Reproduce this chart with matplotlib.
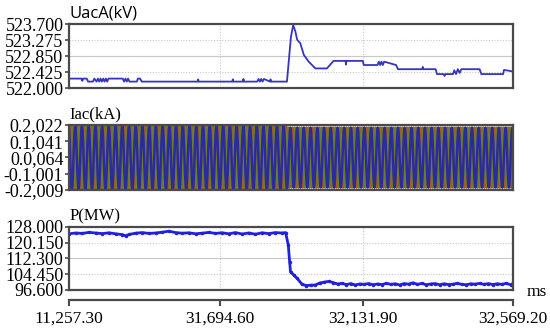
import matplotlib
matplotlib.use("Agg")
import matplotlib.pyplot as plt
import numpy as np

# x positions are in percent of the recorded window (0 = left edge, 100 = right edge)
time_ticks = [0, 34.0, 66.3, 100]
time_labels = ['11,257.30', '31,694.60', '32,131.90', '32,569.20']

# UacA (kV)
uac_ticks = [522.000, 522.425, 522.850, 523.275, 523.700]
uac_x = [0, 2.8, 3.0, 3.2, 4.0, 4.3, 5.4, 5.7, 6.2, 6.5, 6.8, 7.1, 7.4, 7.7, 8.0, 8.3,
         8.6, 8.9, 9.4, 12.1, 12.4, 12.7, 13.0, 13.3, 13.6, 15.3, 15.5, 16.0, 16.4,
         29.0, 29.1, 29.2, 36.8, 36.9, 37.0, 39.2, 39.3, 39.4, 42.4, 42.7, 43.0, 43.3,
         43.6, 43.9, 45.3, 45.4, 45.5, 49.1, 49.4, 50.0, 50.5, 51.0, 51.4, 52.1, 52.9,
         54.0, 55.5, 58.1, 59.6, 62.3, 62.4, 62.5, 66.2, 66.4, 69.5, 69.8, 70.1, 70.4,
         70.7, 71.0, 73.7, 74.1, 79.6, 79.7, 79.8, 82.6, 82.9, 84.4, 84.6, 84.8, 86.5,
         86.8, 87.2, 87.6, 88.0, 88.4, 89.5, 92.5, 92.9, 97.8, 98.0, 100]
uac_v = [522.25, 522.25, 522.19, 522.25, 522.25, 522.17, 522.17, 522.25, 522.17, 522.25,
         522.17, 522.25, 522.17, 522.25, 522.17, 522.25, 522.17, 522.25, 522.25, 522.25,
         522.17, 522.25, 522.17, 522.25, 522.17, 522.17, 522.25, 522.25, 522.17,
         522.17, 522.23, 522.17, 522.17, 522.23, 522.17, 522.17, 522.24, 522.17, 522.17,
         522.24, 522.17, 522.24, 522.17, 522.24, 522.17, 522.23, 522.17, 522.17, 522.57,
         523.36, 523.67, 523.50, 523.28, 523.19, 522.88, 522.70, 522.52, 522.52, 522.72,
         522.72, 522.62, 522.72, 522.72, 522.61, 522.61, 522.70, 522.61, 522.70, 522.61,
         522.70, 522.61, 522.50, 522.50, 522.56, 522.50, 522.50, 522.37, 522.37, 522.32,
         522.37, 522.37, 522.47, 522.37, 522.50, 522.40, 522.50, 522.50, 522.50, 522.37,
         522.37, 522.48, 522.44]

# Iac (kA): one cycle of a phase current, repeated over the window
iac_ticks = ['0.2,022', '0.1,041', '0.0,064', '-0.1,001', '-0.2,009']
iac_lo, iac_hi = -0.2009, 0.2022
iac_cycle = [0.0, 0.10, 0.173, 0.20, 0.173, 0.10, 0.0, -0.10, -0.173, -0.20, -0.173, -0.10]
iac_cycles = 66
iac_event = 49.2
iac_scale_after = 0.93
iac_colors = ['#b0541c', '#6f7d22', '#2b2ba0']

# P (MW)
p_ticks = [96.600, 104.450, 112.300, 120.150, 128.000]
p_x = [0, 1.5, 3.0, 4.5, 6.0, 7.5, 9.0, 10.5, 12.0, 12.8, 13.6, 15.0, 16.5, 18.0, 19.5,
       21.0, 22.5, 24.0, 25.5, 27.0, 28.5, 30.0, 31.5, 33.0, 34.5, 36.0, 37.5, 39.0, 40.5,
       42.0, 43.5, 45.0, 46.5, 48.0, 48.8, 49.4, 49.7, 49.9, 50.6, 51.4, 52.5, 53.5, 54.5,
       55.5, 56.5, 57.5, 58.5, 59.5, 60.5, 61.5, 62.5, 63.5, 64.5, 65.5, 66.5, 67.5, 68.5,
       69.5, 70.5, 71.5, 72.5, 73.5, 74.5, 75.5, 76.5, 77.5, 78.5, 79.5, 80.5, 81.5, 82.5,
       83.5, 84.5, 85.5, 86.5, 87.5, 88.5, 89.5, 90.5, 91.5, 92.5, 93.5, 94.5, 95.5, 96.5,
       97.5, 98.5, 99.5, 100]
p_v = [124.6, 125.0, 124.8, 125.3, 125.0, 124.7, 125.1, 124.6, 124.2, 123.6, 124.3, 124.9,
       125.2, 124.8, 125.0, 125.4, 125.9, 125.2, 124.9, 125.1, 124.6, 124.9, 125.3, 124.8,
       125.1, 124.6, 125.2, 124.5, 125.0, 124.4, 125.1, 124.7, 125.2, 125.0, 125.2, 119.0,
       110.7, 105.7, 104.1, 102.4, 99.4, 98.8, 99.0, 99.1, 100.1, 100.5, 100.9, 100.3,
       99.6, 99.9, 99.3, 99.8, 99.1, 99.6, 99.4, 99.8, 99.2, 99.6, 99.3, 99.9, 99.4, 99.7,
       99.1, 99.8, 99.5, 100.2, 99.4, 99.9, 99.2, 99.6, 99.8, 99.2, 99.7, 99.3, 99.5, 99.9,
       99.4, 99.2, 99.7, 99.5, 99.9, 99.4, 99.8, 99.3, 99.7, 99.4, 99.9, 99.2, 99.8]

plt.rcParams['font.family'] = ['Liberation Serif', 'DejaVu Serif']
tick_fs = 13
edge = '#4a4a4a'

fig = plt.figure(figsize=(5.5, 3.28), dpi=100)
left, width = 0.1255, 0.807
ax_u = fig.add_axes([left, 0.7317, width, 0.1951])
ax_i = fig.add_axes([left, 0.4207, width, 0.1983])
ax_p = fig.add_axes([left, 0.1159, width, 0.1921])
ax_t = fig.add_axes([left, 0.0854, width, 0.0001])


def style_panel(ax, ticks, labels, title, title_family):
    ax.set_xlim(0, 100)
    ax.set_ylim(ticks[0], ticks[-1])
    ax.set_yticks(ticks)
    ax.set_yticklabels(labels, fontsize=tick_fs)
    ax.set_xticks([])
    for s in ax.spines.values():
        s.set_color(edge)
        s.set_linewidth(1.6)
    ax.tick_params(axis='y', length=3, width=1.2, color=edge, pad=1)
    ax.text(0.0, 1.04, title, transform=ax.transAxes, ha='left', va='bottom',
            fontsize=12, family=title_family)
    for k, t in enumerate(ticks[1:-1]):
        ls = '-' if k == 1 else (0, (1, 1.5))
        ax.axhline(t, color='#c8c8c8', lw=0.8, ls=ls, zorder=0)
    for t in time_ticks[1:-1]:
        ax.axvline(t, color='#c8c8c8', lw=0.8, ls=(0, (1, 1.5)), zorder=0)


style_panel(ax_u, uac_ticks, ['%.3f' % t for t in uac_ticks], 'UacA(kV)',
            ['Open Sans', 'DejaVu Sans'])
ax_u.plot(uac_x, uac_v, color='#3535c0', lw=1.3)

i_ticks = np.linspace(iac_lo, iac_hi, 5)
style_panel(ax_i, list(i_ticks), iac_ticks[::-1], 'Iac(kA)', ['Liberation Serif'])
n = iac_cycles * len(iac_cycle)
ix = np.arange(n + 1) * 100.0 / n
for k, c in enumerate(iac_colors):
    wave = np.tile(np.roll(iac_cycle, 4 * k), iac_cycles)
    wave = np.append(wave, wave[0])
    wave = np.where(ix > iac_event, wave * iac_scale_after, wave)
    ax_i.plot(ix, wave, color=c, lw=1.8)

style_panel(ax_p, p_ticks, ['%.3f' % t for t in p_ticks], 'P(MW)', ['Liberation Serif'])
ax_p.plot(p_x, p_v, color='#2020e0', lw=2.0, marker='o', ms=1.5)

ax_t.set_xlim(0, 100)
ax_t.set_yticks([])
for s in ['top', 'left', 'right']:
    ax_t.spines[s].set_visible(False)
ax_t.spines['bottom'].set_color(edge)
ax_t.spines['bottom'].set_linewidth(1.6)
ax_t.set_xticks(time_ticks)
ax_t.set_xticklabels(time_labels, fontsize=12.5)
ax_t.tick_params(axis='x', length=4, width=1.5, color=edge, pad=4)
ax_t.text(1.03, 0.0, 'ms', transform=ax_t.transAxes, ha='left', va='bottom',
          fontsize=12.5)

fig.savefig('out.png', dpi=100)
